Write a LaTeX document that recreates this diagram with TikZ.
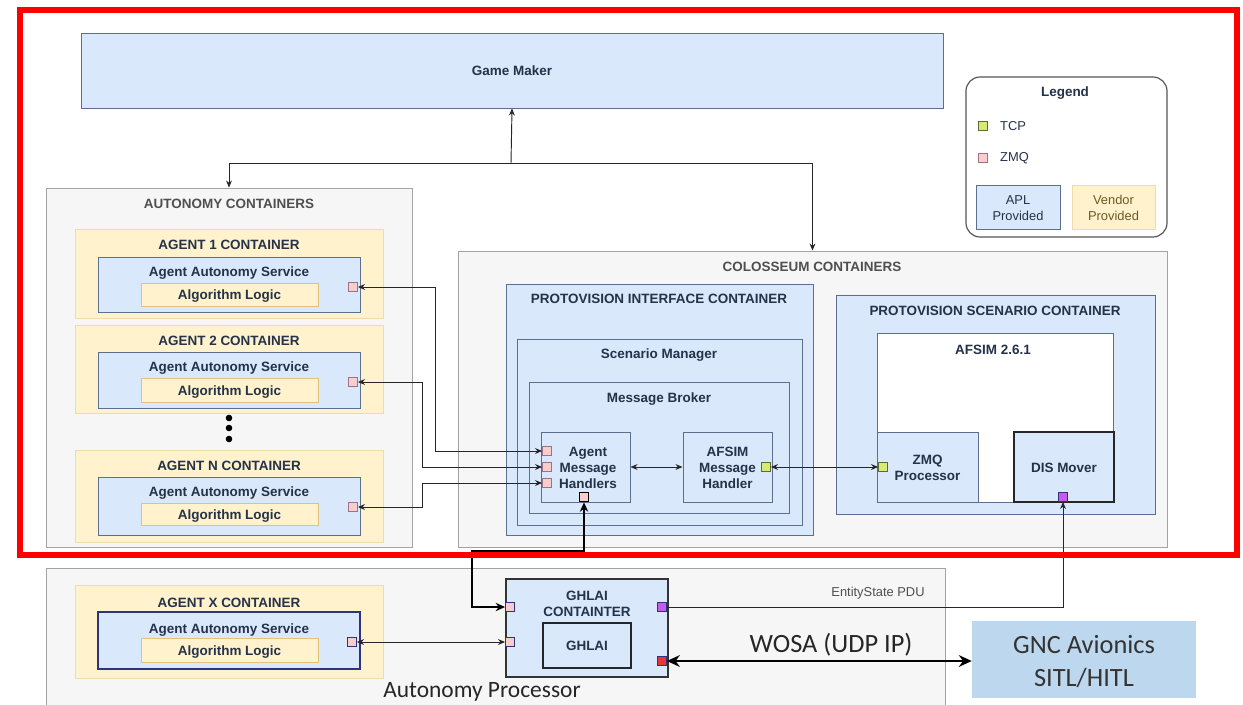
\documentclass[tikz,border=0pt]{standalone}
\usepackage{fontspec}
\setmainfont{Liberation Sans}
\newfontfamily\calibri{Carlito}
\usetikzlibrary{fit,arrows.meta}

\definecolor{bluefill}{HTML}{DAE8FC}
\definecolor{blueline}{HTML}{5C6F8E}
\definecolor{yelfill}{HTML}{FFF2CC}
\definecolor{yelline}{HTML}{EEDDA8}
\definecolor{algline}{HTML}{E0C27C}
\definecolor{grayfill}{HTML}{F6F6F6}
\definecolor{grayline}{HTML}{A3A3A3}
\definecolor{zmqfill}{HTML}{F8CECC}
\definecolor{zmqline}{HTML}{A0708A}
\definecolor{tcpfill}{HTML}{D6EA74}
\definecolor{tcpline}{HTML}{5E6B2E}
\definecolor{purplefill}{HTML}{C45CF0}
\definecolor{redfill}{HTML}{E0393B}
\definecolor{portline}{HTML}{31327A}
\definecolor{gncfill}{HTML}{BDD7EE}
\definecolor{titlegray}{HTML}{4F4F4F}
\definecolor{inktext}{HTML}{24324A}
\definecolor{legline}{HTML}{555555}
\definecolor{vendortext}{HTML}{6B5A2A}

\tikzset{
  every node/.style={text=inktext, font=\bfseries\fontsize{11.5}{13.5}\selectfont},
  box/.style={rectangle, inner sep=0pt, line width=0.8pt},
  grayct/.style={box, fill=grayfill, draw=grayline},
  yelct/.style={box, fill=yelfill, draw=yelline},
  algo/.style={box, fill=yelfill, draw=algline},
  bluect/.style={box, fill=bluefill, draw=blueline},
  darkct/.style={box, fill=bluefill, draw=black!85, line width=1.4pt},
  ttl/.style={inner sep=0pt, text height=2ex, text depth=.25ex},
  graytl/.style={ttl, text=titlegray},
  lines/.style={inner sep=0pt, align=center, yshift=-1pt},
  plain/.style={font=\fontsize{11}{13.5}\selectfont},
  port/.style={rectangle, inner sep=0pt, minimum size=0.27cm, line width=0.7pt},
  zmq/.style={port, fill=zmqfill, draw=zmqline},
  tcp/.style={port, fill=tcpfill, draw=tcpline},
  link/.style={draw=black!85, line width=0.8pt},
  heavy/.style={draw=black, line width=1.7pt, >={Stealth[length=8pt,width=7pt]}},
}

\begin{document}
\begin{tikzpicture}[x=0.03cm, y=-0.03cm, >={Stealth[length=6pt,width=5pt]}]
\useasboundingbox (0,0) rectangle (1243,704);
\fill[white] (0,0) rectangle (1243,704);

\node[bluect, fit={(81,33) (943,108)}] (gamemaker) {};
\node[ttl] at (gamemaker) {Game Maker};

\node[draw=legline, line width=1pt, rounded corners=12pt, fill=white, inner sep=0pt, fit={(966,77) (1167,237)}] (legend) {};
\node[ttl] at (1065,91) {Legend};
\node[tcp] (legtcp) at (983,126) {};
\node[plain, anchor=west] at (996,126) {TCP};
\node[zmq] (legzmq) at (983,158) {};
\node[plain, anchor=west] at (996,158) {ZMQ};
\node[bluect, fit={(976,185) (1060,229)}] (legapl) {};
\node[lines, plain] at (legapl) {APL\\Provided};
\node[yelct, fit={(1072,185) (1155,229)}] (legvendor) {};
\node[lines, plain, text=vendortext] at (legvendor) {Vendor\\Provided};

\node[grayct, fit={(46,188) (412,547)}] (autonomy) {};
\node[graytl] at (229,203) {AUTONOMY CONTAINERS};

\node[yelct, fit={(75,229) (383,318)}] (agent1) {};
\node[ttl] at (229,244) {AGENT 1 CONTAINER};
\node[bluect, fit={(98,257) (360,312)}] (serv1) {};
\node[ttl] at (229,271) {Agent Autonomy Service};
\node[algo, fit={(141,283) (318,306)}] (algo1) {};
\node[ttl] at (algo1) {Algorithm Logic};
\node[zmq] (port1) at (353,287) {};

\node[yelct, fit={(75,325) (383,413)}] (agent2) {};
\node[ttl] at (229,340) {AGENT 2 CONTAINER};
\node[bluect, fit={(98,352) (360,408)}] (serv2) {};
\node[ttl] at (229,366) {Agent Autonomy Service};
\node[algo, fit={(141,378) (318,402)}] (algo2) {};
\node[ttl] at (algo2) {Algorithm Logic};
\node[zmq] (port2) at (353,382) {};

\fill (229,418) circle (3.3);
\fill (229,428) circle (3.3);
\fill (229,439) circle (3.3);

\node[yelct, fit={(75,450) (383,542)}] (agentn) {};
\node[ttl] at (229,465) {AGENT N CONTAINER};
\node[bluect, fit={(98,477) (360,535)}] (servn) {};
\node[ttl] at (229,491) {Agent Autonomy Service};
\node[algo, fit={(141,503) (318,525)}] (algon) {};
\node[ttl] at (algon) {Algorithm Logic};
\node[zmq] (portn) at (353,507) {};

\node[grayct, fit={(458,251) (1167,547)}] (colosseum) {};
\node[graytl] at (812,266) {COLOSSEUM CONTAINERS};

\node[bluect, fit={(506,284) (813,535)}] (interface) {};
\node[ttl] at (659,298) {PROTOVISION INTERFACE CONTAINER};
\node[bluect, fit={(517,339) (802,525)}] (scenmgr) {};
\node[ttl] at (659,353) {Scenario Manager};
\node[bluect, fit={(529,382) (789,513)}] (broker) {};
\node[ttl] at (659,397) {Message Broker};
\node[bluect, fit={(541,432) (630,502)}] (amh) {};
\node[lines] at (588,467) {Agent\\Message\\Handlers};
\node[zmq] (h1) at (547,451) {};
\node[zmq] (h2) at (547,467) {};
\node[zmq] (h3) at (547,483) {};
\node[zmq, draw=black, line width=1.4pt] (hbot) at (584,497) {};
\node[bluect, fit={(683,432) (772,502)}] (afmh) {};
\node[lines] at (afmh) {AFSIM\\Message\\Handler};
\node[tcp] (afport) at (766,467) {};

\node[bluect, fit={(836,295) (1155,514)}] (scenario) {};
\node[ttl] at (995,310) {PROTOVISION SCENARIO CONTAINER};
\node[box, fill=white, draw=blueline, fit={(877,333) (1113,502)}] (afsim) {};
\node[ttl] at (993,349) {AFSIM 2.6.1};
\node[bluect, fit={(877,432) (978,502)}] (zmqproc) {};
\node[lines] at (zmqproc) {ZMQ\\Processor};
\node[tcp] (zport) at (883,467) {};
\node[darkct, fit={(1014,432) (1114,502)}] (dismover) {};
\node[ttl] at (dismover) {DIS Mover};
\node[port, fill=purplefill, draw=portline] (disport) at (1063,497) {};

\node[grayct, fit={(46,568) (945,712)}] (procbox) {};
\node[plain, text=titlegray] at (878,593) {EntityState PDU};

\node[yelct, fit={(75,585) (383,678)}] (agentx) {};
\node[ttl] at (229,602) {AGENT X CONTAINER};
\node[bluect, draw=portline, line width=1.2pt, fit={(98,612) (360,669)}] (servx) {};
\node[ttl] at (229,628) {Agent Autonomy Service};
\node[algo, fit={(141,638) (318,662)}] (algox) {};
\node[ttl] at (algox) {Algorithm Logic};
\node[zmq, draw=portline] (xport) at (352,642) {};

\node[bluect, draw=black!80, line width=1pt, fit={(506,579) (668,677)}] (ghlaict) {};
\node[lines] at (587,603) {GHLAI\\CONTAINTER};
\node[darkct, fit={(543,623) (631,668)}] (ghlai) {};
\node[ttl] at (ghlai) {GHLAI};
\node[zmq, draw=portline] (gin1) at (510,607) {};
\node[zmq, draw=portline] (gin2) at (510,642) {};
\node[port, fill=purplefill, draw=portline] (gout) at (662,607) {};
\node[port, fill=redfill, draw=portline] (gred) at (662,661) {};

\node[fill=gncfill, inner sep=0pt, fit={(972,621) (1196,698)}] (gnc) {};
\node[lines, text=black!80, font=\calibri\fontsize{22.5}{28}\selectfont] at ([yshift=-1pt]gnc) {GNC Avionics\\SITL/HITL};
\node[text=black!85, font=\calibri\fontsize{22.5}{26}\selectfont] at (831,645) {WOSA (UDP IP)};
\node[text=black!85, font=\calibri\fontsize{20}{24}\selectfont] at (482,692) {Autonomy Processor};

\coordinate (split) at (511,163);
\draw[link, ->] (split) -- (gamemaker.south);
\draw[link, ->] (split) -| (autonomy.north);
\draw[link, ->] (split) -| (colosseum.north);

\draw[link, <->] (port1.east) -- ++(78,0) |- (h1.west);
\draw[link, <->] (port2.east) -- ++(65,0) |- (h2.west);
\draw[link, <->] (portn.east) -- ++(65,0) |- (h3.west);
\draw[link, <->] (amh.east) -- (afmh.west);
\draw[link, <->] (afport.east) -- (zport.west);

\draw[heavy, <->] (hbot.south) |- (472,551) |- (gin1.west);
\draw[link, <->] (xport.east) -- (gin2.west);
\draw[link, ->] (gout.east) -| (disport.south);
\draw[heavy, >={Stealth[length=11pt,width=10pt]}, <->] (gred.east) -- (gred.east -| gnc.west);

\draw[red, line width=0.18cm] (20,10) rectangle (1237,555);
\end{tikzpicture}
\end{document}
